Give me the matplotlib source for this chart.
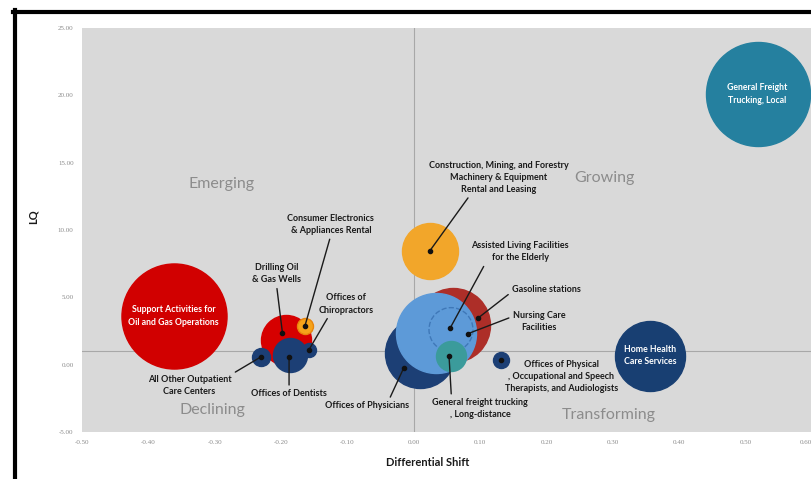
import matplotlib
matplotlib.use("Agg")
import matplotlib.pyplot as plt
from matplotlib.lines import Line2D
from matplotlib.transforms import ScaledTranslation

# industries: differential shift (x), LQ (y), bubble size (relative area)
names = ["Support Activities for\nOil and Gas Operations", "General Freight\nTrucking, Local",
         "Home Health\nCare Services", "Construction, Mining, and Forestry",
         "Gasoline stations", "Offices of Physicians", "Assisted Living Facilities",
         "Nursing Care Facilities", "General freight trucking, Long-distance",
         "Offices of Physical Therapists", "Drilling Oil & Gas Wells",
         "Consumer Electronics & Appliances Rental", "Offices of Dentists",
         "Offices of Chiropractors", "All Other Outpatient Care Centers"]
shift = [-0.362, 0.518, 0.356, 0.024, 0.059, 0.009, 0.033, 0.056, 0.056,
         0.132, -0.192, -0.164, -0.186, -0.158, -0.230]
lq = [3.63, 20.07, 0.67, 8.44, 2.96, 0.89, 2.37, 2.60, 0.67,
      0.37, 1.85, 2.89, 0.74, 1.11, 0.59]
size = [2760, 2704, 1225, 784, 1369, 1225, 1600, 484, 225,
        64, 625, 64, 289, 49, 81]
colors = ["#d10000", "#25809f", "#183f72", "#f2a62a", "#ad2e28", "#1c3f75",
          "#5d9ad8", "#5d9ad8", "#3b9b9b", "#1c3f75", "#d60000", "#f5a31a",
          "#1c3f75", "#1c3f75", "#1c3f75"]
edges = ["#d10000", "#25809f", "#183f72", "#f2a62a", "#ad2e28", "#1c3f75",
         "#5d9ad8", "#3f78b8", "#3b9b9b", "#1c3f75", "#d60000", "#e8850c",
         "#1c3f75", "#1c3f75", "#1c3f75"]
styles = ["-", "-", "-", "-", "-", "-", "-", "--", "-", "-", "-", "-", "-", "-", "-"]

# callout labels: text, pointed point, text position, where the line leaves the text
callouts = [
    ("Consumer Electronics\n& Appliances Rental", (-0.164, 2.89), (-0.125, 10.4), (0.5, 0)),
    ("Drilling Oil\n& Gas Wells", (-0.198, 2.37), (-0.207, 6.74), (0.5, 0)),
    ("Offices of\nChiropractors", (-0.158, 1.11), (-0.102, 4.5), (0.2, 0)),
    ("All Other Outpatient\nCare Centers", (-0.230, 0.59), (-0.338, -1.56), (0.88, 0.75)),
    ("Offices of Dentists", (-0.188, 0.55), (-0.188, -2.15), (0.5, 1)),
    ("Construction, Mining, and Forestry\nMachinery & Equipment\nRental and Leasing",
     (0.024, 8.44), (0.128, 13.9), (0.3, 0)),
    ("Assisted Living Facilities\nfor the Elderly", (0.055, 2.74), (0.16, 8.37), (0.15, 0)),
    ("Gasoline stations", (0.096, 3.43), (0.20, 5.56), (0, 0.3)),
    ("Nursing Care\nFacilities", (0.081, 2.29), (0.189, 3.19), (0, 0.75)),
    ("Offices of Physical\n, Occupational and Speech\nTherapists, and Audiologists",
     (0.132, 0.37), (0.222, -0.9), (0.17, 0.85)),
    ("General freight trucking\n, Long-distance", (0.053, 0.67), (0.10, -3.26), (0.2, 1)),
    ("Offices of Physicians", (-0.015, -0.22), (-0.07, -3.04), (0.75, 1)),
]

quadrants = [("Emerging", -0.29, 13.4), ("Growing", 0.287, 13.85),
             ("Declining", -0.303, -3.4), ("Transforming", 0.294, -3.7)]

xticks = [-0.5, -0.4, -0.3, -0.2, -0.1, 0.0, 0.1, 0.2, 0.3, 0.4, 0.5, 0.6]
yticks = [-5, 0, 5, 10, 15, 20, 25]

fig = plt.figure(figsize=(8.12, 4.79), dpi=100)
ax = fig.add_axes([0.101, 0.098, 0.899, 0.844])
ax.set_facecolor("#d9d9d9")
ax.set_xlim(-0.5, 0.6)
ax.set_ylim(-5, 25)

# axis crossing lines
ax.axvline(0, color="#a8a8a8", lw=0.8, zorder=1)
ax.axhline(1, color="#a8a8a8", lw=0.8, zorder=1)

px = 0.72  # points per pixel at 100 dpi
for i in range(len(names)):
    s = 4 * size[i] * px * px
    ax.scatter(shift[i], lq[i], s=s, c=colors[i], edgecolors=edges[i],
               linewidths=1.0, linestyles=styles[i], zorder=3 + i * 0.01)

# white labels inside big bubbles
for i in range(3):
    ax.text(shift[i], lq[i], names[i], color="white", fontsize=6.3,
            fontweight="bold", family="Lato", ha="center", va="center",
            zorder=5, linespacing=1.5)

for text, xy, xyt, rp in callouts:
    ax.annotate(text, xy=xy, xytext=xyt, ha="center", va="center",
                fontsize=6.5, fontweight="bold", family="Lato", color="#1a1a1a",
                linespacing=1.45, zorder=6,
                arrowprops=dict(arrowstyle="-", color="#1a1a1a", lw=1.0,
                                relpos=rp, shrinkA=1, shrinkB=0))
    ax.plot(xy[0], xy[1], "o", color="#111111", ms=3, zorder=6)

for q, x, y in quadrants:
    ax.text(x, y, q, color="#8c8c8c", fontsize=11.5, family="Lato",
            ha="center", va="center", zorder=2)

ax.set_xticks(xticks)
ax.set_xticklabels(["%.2f" % t for t in xticks], fontsize=5,
                   family="Liberation Serif", color="#8a8a8a")
last = ax.get_xticklabels()[-1]
last.set_ha("right")
last.set_transform(last.get_transform() + ScaledTranslation(-3 / 72, 0, fig.dpi_scale_trans))
ax.set_yticks(yticks)
ax.set_yticklabels(["%.2f" % t for t in yticks], fontsize=5,
                   family="Liberation Serif", color="#8a8a8a")
ax.tick_params(length=0, pad=6)
for sp in ax.spines.values():
    sp.set_visible(False)

fig.text(428 / 812, 1 - 463 / 479, "Differential Shift", ha="center", va="center",
         fontsize=8, fontweight="bold", family="Lato", color="#1a1a1a")
fig.text(33 / 812, 1 - 217 / 479, "LQ", ha="center", va="center", rotation=90,
         fontsize=8, fontweight="bold", family="Lato", color="#1a1a1a")

# slide frame
fig.add_artist(Line2D([15 / 812, 15 / 812], [0, 1 - 10 / 479], color="black",
                      lw=3, transform=fig.transFigure))
fig.add_artist(Line2D([13 / 812, 1], [1 - 11.5 / 479, 1 - 11.5 / 479], color="black",
                      lw=3, transform=fig.transFigure))

plt.savefig("out.png", dpi=100)
